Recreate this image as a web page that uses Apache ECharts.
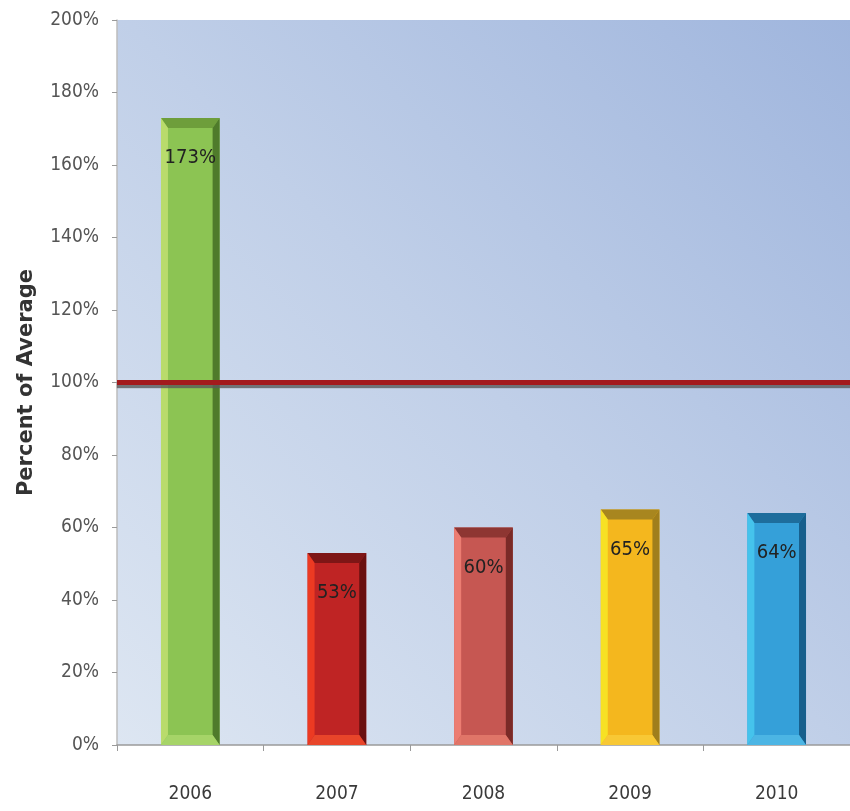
<!DOCTYPE html>
<html><head><meta charset="utf-8">
<script src="https://cdn.jsdelivr.net/npm/echarts@6/dist/echarts.min.js"></script>
<style>html,body{margin:0;padding:0;background:#fff}#c{width:850px;height:811px}</style>
</head><body><div id="c"></div>
<script>
var categories = ['2006','2007','2008','2009','2010'];
var values = [173, 53, 60, 65, 64];
var yTicks = [0,20,40,60,80,100,120,140,160,180,200];
var referenceValue = 100;
var palette = [
  {main:'#8cc453', left:'#b9db6c', top:'#6e9e3b', right:'#4f7b2b', bottom:'#a6d468'},
  {main:'#bf2424', left:'#ec3a22', top:'#7e1616', right:'#6a1010', bottom:'#e8452a'},
  {main:'#c65752', left:'#ec7d72', top:'#8e3632', right:'#7a2a27', bottom:'#e07568'},
  {main:'#f4b71e', left:'#f7e124', top:'#a8861f', right:'#a07e1c', bottom:'#f8c835'},
  {main:'#35a0d9', left:'#45c3ec', top:'#1e6d9c', right:'#175f8c', bottom:'#4cb5e4'}
];
var chart = echarts.init(document.getElementById('c'));
var font = '"DejaVu Sans Condensed","Liberation Sans Narrow",sans-serif';
function renderItem(params, api){
  var idx = api.value(0), val = api.value(1);
  var base = api.coord([idx, 0]), top = api.coord([idx, val]);
  var w = api.size([1,0])[0]*0.4;
  var x0 = base[0]-w/2, x1 = base[0]+w/2, yT = top[1], yB = base[1];
  var b = 7, c = palette[idx];
  return {type:'group', children:[
    {type:'rect', shape:{x:x0,y:yT,width:w,height:yB-yT}, style:{fill:c.main}},
    {type:'polygon', shape:{points:[[x0,yT],[x1,yT],[x1-b,yT+b+3],[x0+b,yT+b+3]]}, style:{fill:c.top}},
    {type:'polygon', shape:{points:[[x0,yT],[x0+b,yT+b+3],[x0+b,yB-b-3],[x0,yB]]}, style:{fill:c.left}},
    {type:'polygon', shape:{points:[[x1,yT],[x1,yB],[x1-b,yB-b-3],[x1-b,yT+b+3]]}, style:{fill:c.right}},
    {type:'polygon', shape:{points:[[x0,yB],[x0+b,yB-b-3],[x1-b,yB-b-3],[x1,yB]]}, style:{fill:c.bottom}},
    {type:'text', style:{text:val+'%', x:base[0], y:yT+40, align:'center', verticalAlign:'middle', fill:'#222', font:'20px '+font}}
  ]};
}
chart.setOption({
  animation:false,
  grid:{left:117,right:0,top:20,bottom:66,show:true,borderWidth:0,containLabel:false,outerBoundsMode:'none',
    backgroundColor:new echarts.graphic.LinearGradient(0,1,1,0,[{offset:0,color:'#dde6f2'},{offset:0.5,color:'#c0cfe8'},{offset:1,color:'#9fb5dd'}])},
  xAxis:{type:'category',data:categories,
    axisLine:{lineStyle:{color:'#9a9a9a',width:1.5}},
    axisTick:{show:true,length:6,lineStyle:{color:'#9a9a9a'}},
    axisLabel:{color:'#3a3a3a',fontSize:19,fontFamily:font,margin:40}},
  yAxis:{type:'value',min:0,max:200,interval:20,
    name:'Percent of Average',nameLocation:'middle',nameGap:80,
    nameTextStyle:{fontSize:21,fontWeight:'bold',color:'#333',fontFamily:'"DejaVu Sans",sans-serif'},
    axisLine:{show:true,lineStyle:{color:'#bdbdbd',width:1.5}},
    axisTick:{show:true,length:5,lineStyle:{color:'#9a9a9a'}},
    splitLine:{show:false},
    axisLabel:{color:'#555',fontSize:19,fontFamily:font,margin:18,formatter:function(v){return yTicks.indexOf(v)>=0? v+'%':'';}}},
  series:[{type:'custom',renderItem:renderItem,data:values.map(function(v,i){return [i,v];}),
    markLine:{silent:true,symbol:['none','none'],label:{show:false},
      lineStyle:{color:'#a31a1d',width:5,type:'solid',shadowColor:'rgba(90,90,90,0.8)',shadowOffsetY:3,shadowBlur:1},
      data:[{yAxis:referenceValue}]}}]
});
</script></body></html>
